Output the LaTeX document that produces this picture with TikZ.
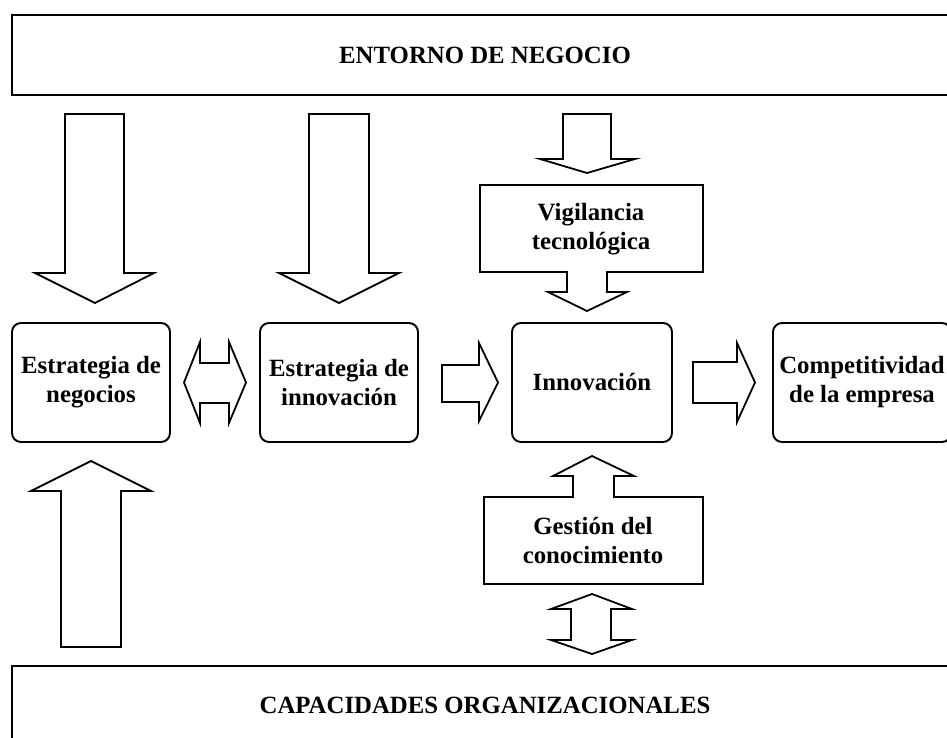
\documentclass[tikz,border=0pt]{standalone}
\usepackage{fontspec}
\setmainfont{Liberation Serif}
\begin{document}
\begin{tikzpicture}[x=1pt,y=-1pt,
  txt/.style={font=\bfseries\fontsize{24.8}{29}\selectfont, align=center, inner sep=0pt},
  rbox/.style={txt, draw, line width=1.9pt, rounded corners=9pt, minimum width=158pt, minimum height=119pt},
  bigline/.style={draw, line width=2.4pt},
  barrow/.style={draw, line width=1.8pt, line join=miter, fill=white}]
\useasboundingbox (0,0) rectangle (947,738);
% top and bottom frames
\path[bigline] (990,15) -- (12,15) -- (12,95) -- (990,95);
\node[txt] (env) at (485,55) {ENTORNO DE NEGOCIO};
\path[bigline] (990,666) -- (12,666) -- (12,760);
\node[txt] (cap) at (485,705) {CAPACIDADES ORGANIZACIONALES};
% rounded boxes
\node[rbox] (bn) at (91,382.5) {Estrategia de\\negocios};
\node[rbox] (bi) at (339,382.5) {Estrategia de\\innovación};
\node[rbox, minimum width=160pt] (inn) at (592,382.5) {Innovación};
\node[rbox, minimum width=178pt] (comp) at (862,382.5) {Competitividad\\de la empresa};
% callout shapes
\draw[barrow] (480,185) -- (703,185) -- (703,272) -- (607,272) -- (607,292) -- (627,292) -- (587,311) -- (548,292) -- (567,292) -- (567,272) -- (480,272) -- cycle;
\node[txt] (vig) at (591,229) {Vigilancia\\tecnológica};
\draw[barrow] (484,584) -- (484,497) -- (573,497) -- (573,476) -- (553,476) -- (592,456) -- (634,476) -- (614,476) -- (614,497) -- (703,497) -- (703,584) -- cycle;
\node[txt] (gest) at (593,540) {Gestión del\\conocimiento};
% block arrows
\draw[barrow] (65,114) -- (124,114) -- (124,273) -- (154,273) -- (95,303) -- (35,273) -- (65,273) -- cycle;
\draw[barrow] (309,114) -- (369,114) -- (369,273) -- (399,273) -- (339,303) -- (279,273) -- (309,273) -- cycle;
\draw[barrow] (563,114) -- (611,114) -- (611,159) -- (635,159) -- (587,173) -- (540,159) -- (563,159) -- cycle;
\draw[barrow] (184,382.5) -- (200,342) -- (200,363) -- (229,363) -- (229,342) -- (246,382.5) -- (229,423) -- (229,403) -- (200,403) -- (200,423) -- cycle;
\draw[barrow] (442,365) -- (479,365) -- (479,343) -- (498,382.5) -- (479,421) -- (479,402) -- (442,402) -- cycle;
\draw[barrow] (693,362) -- (737,362) -- (737,343) -- (755,382.5) -- (737,422) -- (737,403) -- (693,403) -- cycle;
\draw[barrow] (61,647) -- (61,491) -- (31,491) -- (91,461) -- (151,491) -- (121,491) -- (121,647) -- cycle;
\draw[barrow] (592,594) -- (632,609) -- (611,609) -- (611,640) -- (632,640) -- (592,654) -- (551,640) -- (571,640) -- (571,609) -- (551,609) -- cycle;
\end{tikzpicture}
\end{document}
